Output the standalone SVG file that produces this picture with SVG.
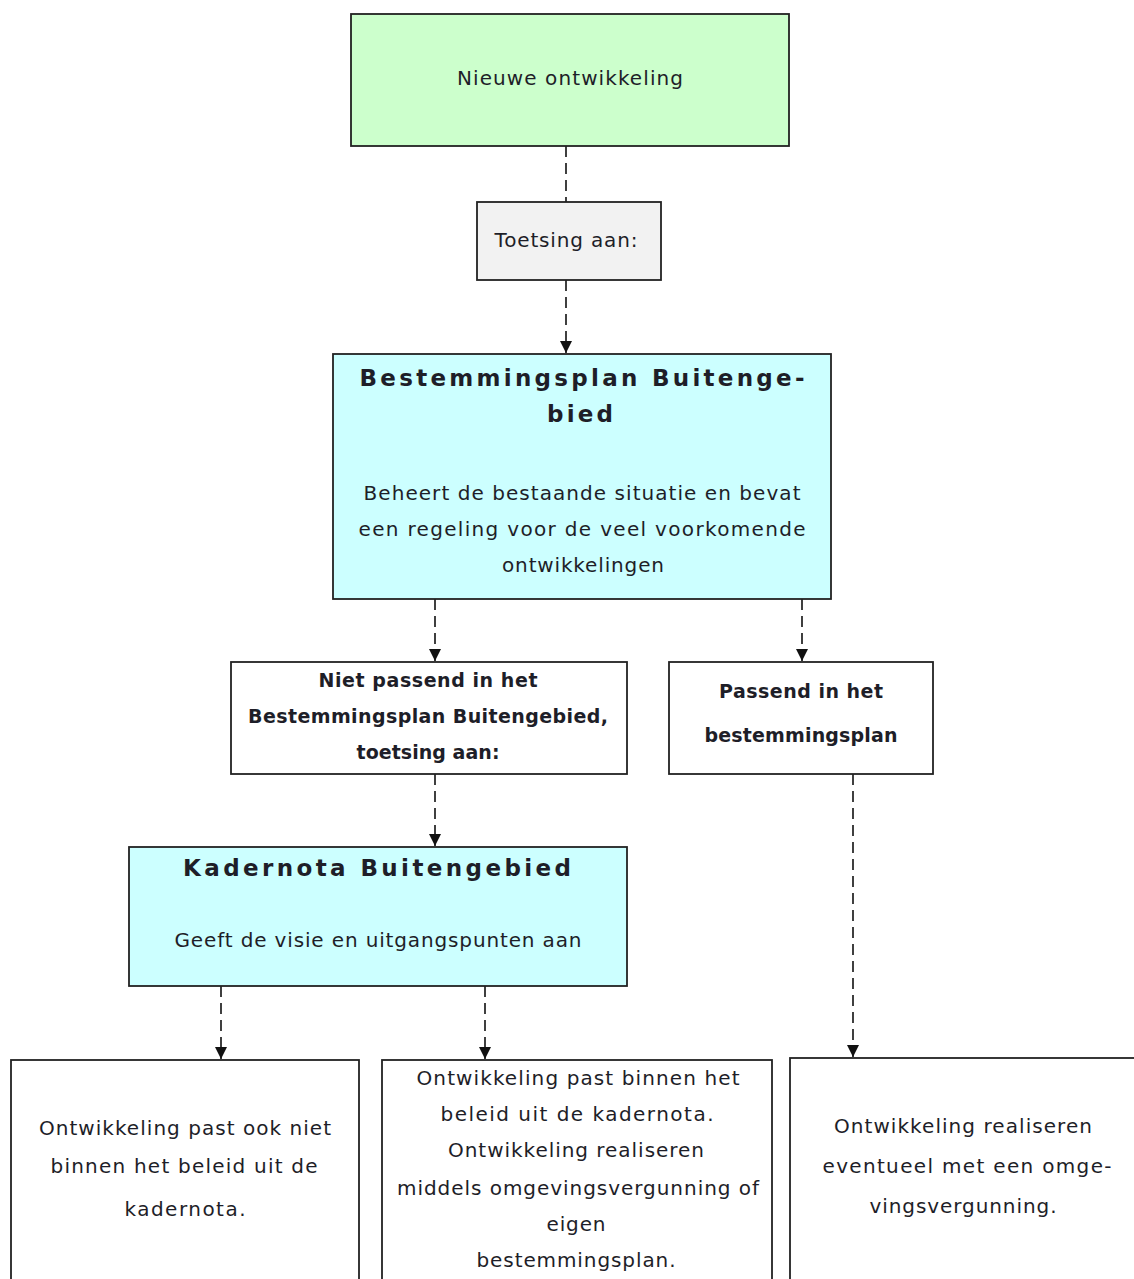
<svg xmlns="http://www.w3.org/2000/svg" width="1134" height="1279" viewBox="0 0 1134 1279">
<defs>
<style>
.box{stroke:#222;stroke-width:1.8}
.g{fill:#ccffcc}.gr{fill:#f2f2f2}.c{fill:#ccffff}.w{fill:#ffffff}
text{font-family:"DejaVu Sans","Noto Sans",sans-serif;font-size:20px;fill:#1e1e28;text-anchor:middle}
.b{font-weight:bold;font-size:19px}
.t{font-weight:bold;font-size:23px}
.con{fill:none;stroke:#111;stroke-width:1.6;stroke-dasharray:11 6}
</style>
<marker id="ah" viewBox="0 0 12 12" refX="12" refY="6" markerWidth="12" markerHeight="12" markerUnits="userSpaceOnUse" orient="auto">
<path d="M0,0 L12,6 L0,12 z" fill="#111"/>
</marker>
</defs>
<rect width="1134" height="1279" fill="#ffffff"/>

<g id="connectors">
<line class="con" x1="566" y1="146" x2="566" y2="202"/>
<line class="con" x1="566" y1="280" x2="566" y2="353" marker-end="url(#ah)"/>
<line class="con" x1="435" y1="599" x2="435" y2="661" marker-end="url(#ah)"/>
<line class="con" x1="802" y1="599" x2="802" y2="661" marker-end="url(#ah)"/>
<line class="con" x1="435" y1="774" x2="435" y2="846" marker-end="url(#ah)"/>
<line class="con" x1="853" y1="774" x2="853" y2="1057" marker-end="url(#ah)"/>
<line class="con" x1="221" y1="986" x2="221" y2="1059" marker-end="url(#ah)"/>
<line class="con" x1="485" y1="986" x2="485" y2="1059" marker-end="url(#ah)"/>
</g>

<g id="n-nieuwe">
<rect class="box g" x="351" y="14" width="438" height="132"/>
<text x="570" y="85" textLength="226">Nieuwe ontwikkeling</text>
</g>

<g id="n-toetsing">
<rect class="box gr" x="477" y="202" width="184" height="78"/>
<text x="566" y="247" textLength="143">Toetsing aan:</text>
</g>

<g id="n-bestemmingsplan">
<rect class="box c" x="333" y="354" width="498" height="245"/>
<text class="t" x="582" y="386" textLength="445">Bestemmingsplan Buitenge-</text>
<text class="t" x="580" y="422" textLength="66">bied</text>
<text x="582" y="500" textLength="437">Beheert de bestaande situatie en bevat</text>
<text x="582" y="536" textLength="447">een regeling voor de veel voorkomende</text>
<text x="583" y="572" textLength="162">ontwikkelingen</text>
</g>

<g id="n-niet-passend">
<rect class="box w" x="231" y="662" width="396" height="112"/>
<text class="b" x="428" y="687" textLength="219">Niet passend in het</text>
<text class="b" x="428" y="723" textLength="360">Bestemmingsplan Buitengebied,</text>
<text class="b" x="428" y="759" textLength="143">toetsing aan:</text>
</g>

<g id="n-passend">
<rect class="box w" x="669" y="662" width="264" height="112"/>
<text class="b" x="801" y="698" textLength="164">Passend in het</text>
<text class="b" x="801" y="742" textLength="193">bestemmingsplan</text>
</g>

<g id="n-kadernota">
<rect class="box c" x="129" y="847" width="498" height="139"/>
<text class="t" x="377" y="876" textLength="388">Kadernota Buitengebied</text>
<text x="378" y="947" textLength="407">Geeft de visie en uitgangspunten aan</text>
</g>

<g id="n-niet-binnen">
<rect class="box w" x="11" y="1060" width="348" height="240"/>
<text x="185" y="1135" textLength="292">Ontwikkeling past ook niet</text>
<text x="184" y="1173" textLength="267">binnen het beleid uit de</text>
<text x="185" y="1216" textLength="121">kadernota.</text>
</g>

<g id="n-binnen">
<rect class="box w" x="382" y="1060" width="390" height="240"/>
<text x="578" y="1085" textLength="323">Ontwikkeling past binnen het</text>
<text x="577" y="1121" textLength="273">beleid uit de kadernota.</text>
<text x="576" y="1157" textLength="256">Ontwikkeling realiseren</text>
<text x="578" y="1195" textLength="362">middels omgevingsvergunning of</text>
<text x="576" y="1231" textLength="59">eigen</text>
<text x="576" y="1267" textLength="199">bestemmingsplan.</text>
</g>

<g id="n-realiseren">
<rect class="box w" x="790" y="1058" width="360" height="242"/>
<text x="963" y="1133" textLength="258">Ontwikkeling realiseren</text>
<text x="967" y="1173" textLength="289">eventueel met een omge-</text>
<text x="963" y="1213" textLength="187">vingsvergunning.</text>
</g>
</svg>
